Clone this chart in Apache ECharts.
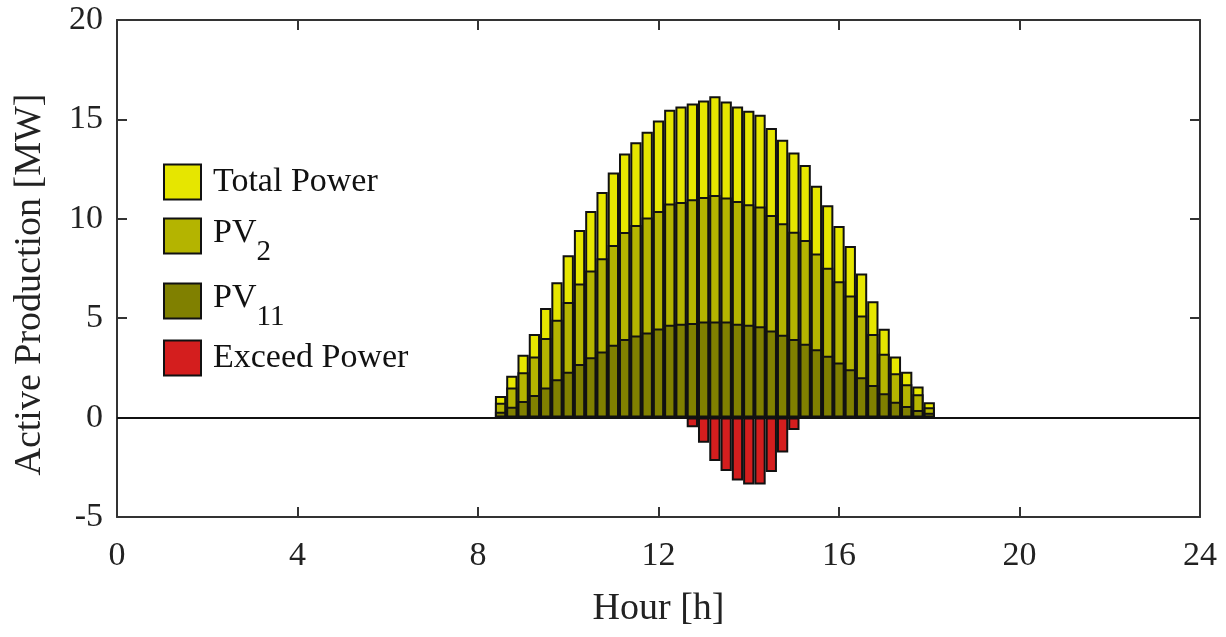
<!DOCTYPE html>
<html>
<head>
<meta charset="utf-8">
<script src="https://cdn.jsdelivr.net/npm/echarts@6/dist/echarts.min.js"></script>
<style>
html,body{margin:0;padding:0;background:#fff;}
#chart{width:1226px;height:637px;}
</style>
</head>
<body>
<div id="chart"></div>
<script>
// Hours (15-min resolution bars)
const hours = [8.5, 8.75, 9.0, 9.25, 9.5, 9.75, 10.0, 10.25, 10.5, 10.75,
  11.0, 11.25, 11.5, 11.75, 12.0, 12.25, 12.5, 12.75, 13.0, 13.25,
  13.5, 13.75, 14.0, 14.25, 14.5, 14.75, 15.0, 15.25, 15.5, 15.75,
  16.0, 16.25, 16.5, 16.75, 17.0, 17.25, 17.5, 17.75, 18.0];
const totalPower = [1.09, 2.10, 3.16, 4.20, 5.51, 6.81, 8.17, 9.44, 10.39, 11.35,
  12.33, 13.29, 13.85, 14.38, 14.94, 15.49, 15.65, 15.80, 15.95, 16.17,
  15.90, 15.65, 15.44, 15.23, 14.57, 13.98, 13.34, 12.70, 11.66, 10.68,
  9.64, 8.63, 7.25, 5.85, 4.47, 3.07, 2.31, 1.56, 0.77];
const pv2 = [0.75, 1.52, 2.28, 3.07, 4.00, 4.92, 5.82, 6.74, 7.40, 8.01,
  8.68, 9.33, 9.69, 10.06, 10.39, 10.77, 10.85, 10.98, 11.10, 11.20,
  11.07, 10.90, 10.73, 10.62, 10.19, 9.77, 9.35, 8.93, 8.26, 7.54,
  6.86, 6.14, 5.14, 4.20, 3.21, 2.23, 1.68, 1.17, 0.52];
const pv11 = [0.29, 0.55, 0.83, 1.14, 1.51, 1.93, 2.31, 2.70, 3.04, 3.32,
  3.66, 3.96, 4.13, 4.28, 4.48, 4.67, 4.72, 4.76, 4.84, 4.84,
  4.84, 4.72, 4.67, 4.59, 4.38, 4.17, 3.96, 3.71, 3.44, 3.11,
  2.77, 2.43, 2.03, 1.64, 1.22, 0.80, 0.58, 0.38, 0.24];
const exceedHours = [12.75, 13.0, 13.25, 13.5, 13.75, 14.0, 14.25, 14.5, 14.75, 15.0];
const exceedPower = [-0.49, -1.27, -2.18, -2.69, -3.16, -3.36, -3.36, -2.74, -1.76, -0.63];
const xTicks = [0, 4, 8, 12, 16, 20, 24];
const yTicks = [-5, 0, 5, 10, 15, 20];

const FONT = '"Liberation Serif", "Times New Roman", serif';
const TXT = '#222';
const FRAME = '#333';
const gridL = 117, gridR = 26, gridT = 20, gridB = 120;
const W = 1226;
const barW = (W - gridL - gridR) / 24 * 0.25;

const pairs = (xs, ys) => xs.map((x, i) => [x, ys[i]]);

const chart = echarts.init(document.getElementById('chart'), null, {renderer: 'canvas'});

const axisCommon = {
  axisLine: {show: true, onZero: false, lineStyle: {color: FRAME, width: 2}},
  axisTick: {show: true, inside: true, length: 10, lineStyle: {color: FRAME, width: 2}},
  splitLine: {show: false}
};

const bar = (name, data, color, z) => ({
  name, type: 'bar', data, barWidth: barW, barGap: '-100%', z,
  itemStyle: {color, borderColor: '#111', borderWidth: 2},
  emphasis: {disabled: true}, animation: false
});

const legendBase = (name, top, fmt, rich, pad) => ({
  data: [name], left: 163, top, padding: 0, orient: 'vertical',
  itemWidth: 37, itemHeight: 35, icon: 'rect',
  formatter: fmt,
  textStyle: {fontFamily: FONT, fontSize: 34, color: '#111', lineHeight: 35, padding: pad || [0, 0, 0, 7], rich}
});
const subRich = {
  m: {fontFamily: FONT, fontSize: 34, color: '#111', lineHeight: 35, padding: [6, 0, 0, 0], verticalAlign: 'top'},
  s: {fontFamily: FONT, fontSize: 29, color: '#111', lineHeight: 29, padding: [28, 0, 0, 0], verticalAlign: 'top'}
};
const plainRich = {m: {fontFamily: FONT, fontSize: 34, color: '#111', lineHeight: 35}};

chart.setOption({
  animation: false,
  backgroundColor: '#fff',
  grid: {left: gridL, right: gridR, top: gridT, bottom: gridB, containLabel: false},
  legend: [
    legendBase('Total Power', 163.5, '{m|Total Power}', plainRich),
    legendBase('PV2', 210, '{m|PV}{s|2}', subRich, [0, 0, 17, 7]),
    legendBase('PV11', 275, '{m|PV}{s|11}', subRich, [0, 0, 17, 7]),
    legendBase('Exceed Power', 339.5, '{m|Exceed Power}', plainRich)
  ],
  xAxis: [
    Object.assign({
      type: 'value', position: 'bottom', min: 0, max: 24, interval: 4,
      axisLabel: {fontFamily: FONT, fontSize: 34, color: TXT, margin: 22},
      name: 'Hour [h]', nameLocation: 'middle', nameGap: 73,
      nameTextStyle: {fontFamily: FONT, fontSize: 38, color: TXT}
    }, axisCommon),
    Object.assign({
      type: 'value', position: 'top', min: 0, max: 24, interval: 4,
      axisLabel: {show: false}
    }, axisCommon)
  ],
  yAxis: [
    Object.assign({
      type: 'value', position: 'left', min: -5, max: 20, interval: 5,
      axisLabel: {fontFamily: FONT, fontSize: 34, color: TXT, margin: 14},
      name: 'Active Production [MW]', nameLocation: 'middle', nameGap: 68,
      nameTextStyle: {fontFamily: FONT, fontSize: 38, color: TXT, padding: [0, 32, 0, 0]}
    }, axisCommon),
    Object.assign({
      type: 'value', position: 'right', min: -5, max: 20, interval: 5,
      axisLabel: {show: false}
    }, axisCommon)
  ],
  series: [
    Object.assign(bar('Total Power', pairs(hours, totalPower), '#E6E600', 2), {
      markLine: {
        silent: true, symbol: ['none', 'none'], label: {show: false},
        lineStyle: {color: '#111', width: 2, type: 'solid'},
        data: [{yAxis: 0}], animation: false
      }
    }),
    bar('PV2', pairs(hours, pv2), '#B4B400', 3),
    bar('PV11', pairs(hours, pv11), '#808000', 4),
    bar('Exceed Power', pairs(exceedHours, exceedPower), '#D41E1E', 5)
  ]
});
</script>
</body>
</html>
